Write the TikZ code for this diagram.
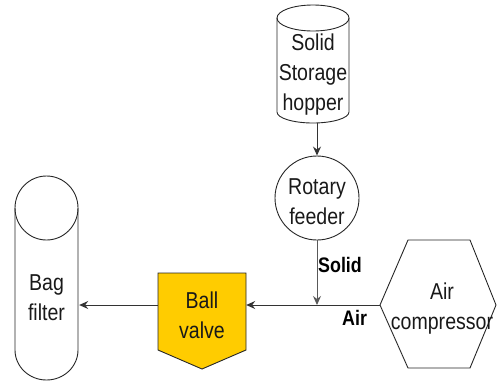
\documentclass[tikz,border=0pt]{standalone}
\usepackage{fontspec}
\setmainfont{Liberation Sans}[FakeStretch=0.85]
\usetikzlibrary{arrows.meta}
\begin{document}
\begin{tikzpicture}[x=1pt,y=-1pt,
  shp/.style={draw=black!85, line width=0.9pt},
  lbl/.style={align=center, font=\fontsize{23}{30}\selectfont, text=black!90, inner sep=0pt},
  blbl/.style={font=\bfseries\fontsize{21}{26}\selectfont, text=black, inner sep=0pt, anchor=west},
  arr/.style={draw=black!80, line width=1pt, -{Stealth[length=9pt,width=8pt,inset=3pt]}}
]
\useasboundingbox (0,0) rectangle (497,381);
% Solid storage hopper
\node[minimum width=72pt, minimum height=118pt, inner sep=0pt] (hopper) at (313,64) {};
\draw[shp] (277,18) -- (277,112) arc[start angle=180,end angle=0,x radius=36,y radius=11] -- (349,18);
\draw[shp] (313,18) ellipse [x radius=36, y radius=13];
\node[lbl] at (313,75) {Solid\\Storage\\hopper};
% Rotary feeder
\node[lbl, shp, circle, minimum size=84pt] (feeder) at (317,198) {};
\node[lbl] at (317,202) {Rotary\\feeder};
% Bag filter
\node[minimum width=63pt, minimum height=204pt, inner sep=0pt] (bag) at (46.5,278) {};
\draw[shp] (15,208) -- (15,350) arc[start angle=180,end angle=0,x radius=31.5,y radius=30] -- (78,208);
\draw[shp] (46.5,208) ellipse [x radius=31.5, y radius=32];
\node[lbl] at (46.5,298) {Bag\\filter};
% Ball valve
\draw[shp, fill={rgb,255:red,255;green,204;blue,0}] (158,273) -- (246,273) -- (246,350) -- (202,369) -- (158,350) -- cycle;
\node[minimum width=88pt, minimum height=96pt, inner sep=0pt] (valve) at (202,305) {};
\node[lbl] at (202,315) {Ball\\valve};
% Air compressor
\draw[shp] (380,305) -- (408,240) -- (470,240) -- (496,305) -- (470,368) -- (408,368) -- cycle;
\node[minimum width=116pt, minimum height=128pt, inner sep=0pt] (comp) at (438,305) {};
\node[lbl] at (442,309) {Air\\compressor};
% junction
\coordinate (junc) at (317,305);
% connectors
\draw[arr] ([xshift=4pt]hopper.south) -- (feeder.north);
\draw[arr, draw=black!65] (feeder.south) -- (junc);
\draw[arr] (comp.west) -- (valve.east);
\draw[arr] (valve.west) -- ([xshift=1pt]valve.west -| bag.east);
% labels
\node[blbl] at (318,265) {Solid};
\node[blbl] at (342,318) {Air};
\end{tikzpicture}
\end{document}
